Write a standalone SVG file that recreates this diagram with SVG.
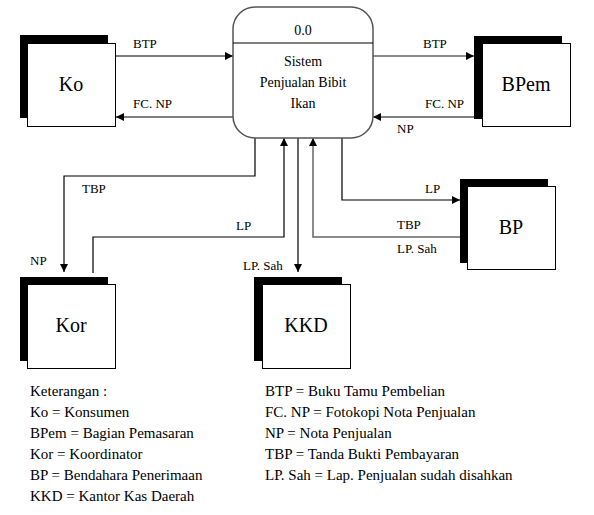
<svg xmlns="http://www.w3.org/2000/svg" width="594" height="515" viewBox="0 0 594 515" font-family="Liberation Serif, serif">
<defs>
  <marker id="ah" viewBox="0 0 10 10" refX="10" refY="5" markerWidth="8" markerHeight="8" markerUnits="userSpaceOnUse" orient="auto">
    <path d="M0,0 L10,5 L0,10 z" fill="#000"/>
  </marker>
</defs>
<rect width="594" height="515" fill="#fff"/>

<g id="connectors" fill="none" stroke="#000" stroke-width="1.2">
  <path d="M116,56 H233" marker-end="url(#ah)"/>
  <path d="M233,117 H116" marker-end="url(#ah)"/>
  <path d="M373,56 H474" stroke="#666" stroke-width="1.5" marker-end="url(#ah)"/>
  <path d="M474,117 H373" marker-end="url(#ah)"/>
  <path d="M255,138 V176 H64 V272" marker-end="url(#ah)"/>
  <path d="M93,273 V237 H284 V138" marker-end="url(#ah)"/>
  <path d="M298,138 V272" marker-end="url(#ah)"/>
  <path d="M460,237 H313 V138" stroke="#666" stroke-width="1.5" marker-end="url(#ah)"/>
  <path d="M342,138 V200 H460" marker-end="url(#ah)"/>
  <g font-family="Liberation Serif" font-size="13" fill="#000" stroke="none">
    <text x="133" y="48">BTP</text>
    <text x="133" y="108">FC. NP</text>
    <text x="423" y="48">BTP</text>
    <text x="425" y="108">FC. NP</text>
    <text x="397" y="133">NP</text>
    <text x="82" y="193">TBP</text>
    <text x="30" y="265">NP</text>
    <text x="236" y="230">LP</text>
    <text x="243" y="270">LP. Sah</text>
    <text x="425" y="193">LP</text>
    <text x="397" y="229">TBP</text>
    <text x="397" y="253">LP. Sah</text>
  </g>
</g>

<g id="process">
  <rect x="233" y="7" width="140" height="131" rx="22" ry="22" fill="#fff" stroke="#555" stroke-width="1.5"/>
  <line x1="233" y1="43" x2="373" y2="43" stroke="#000" stroke-width="1"/>
  <g font-family="Liberation Serif" font-size="14" text-anchor="middle" fill="#000">
    <text x="303" y="35">0.0</text>
    <text x="303" y="66">Sistem</text>
    <text x="303" y="87">Penjualan Bibit</text>
    <text x="303" y="108">Ikan</text>
  </g>
</g>

<g id="entities" font-family="Liberation Serif" font-size="20" text-anchor="middle">
  <g id="Ko">
    <rect x="20" y="35" width="88" height="83" fill="#000"/>
    <rect x="27.5" y="43.5" width="88" height="83" fill="#fff" stroke="#000"/>
    <text x="71" y="91" fill="#000">Ko</text>
  </g>
  <g id="BPem">
    <rect x="474" y="36" width="88" height="83" fill="#000"/>
    <rect x="482.5" y="43.5" width="88" height="83" fill="#fff" stroke="#000"/>
    <text x="526" y="91" fill="#000">BPem</text>
  </g>
  <g id="BP">
    <rect x="460" y="179" width="88" height="84" fill="#000"/>
    <rect x="467.5" y="186.5" width="88" height="83" fill="#fff" stroke="#000"/>
    <text x="511" y="234" fill="#000">BP</text>
  </g>
  <g id="Kor">
    <rect x="20" y="277" width="88" height="84" fill="#000"/>
    <rect x="27.5" y="284.5" width="88" height="84" fill="#fff" stroke="#000"/>
    <text x="71" y="332" fill="#000">Kor</text>
  </g>
  <g id="KKD">
    <rect x="254" y="277" width="88" height="84" fill="#000"/>
    <rect x="262.5" y="284.5" width="88" height="84" fill="#fff" stroke="#000"/>
    <text x="306" y="332" fill="#000">KKD</text>
  </g>
</g>

<g id="legend" font-family="Liberation Serif" font-size="15" fill="#000">
  <text x="30" y="396">Keterangan :</text>
  <text x="30" y="417">Ko = Konsumen</text>
  <text x="30" y="438">BPem = Bagian  Pemasaran</text>
  <text x="30" y="459">Kor = Koordinator</text>
  <text x="30" y="480">BP = Bendahara Penerimaan</text>
  <text x="30" y="501">KKD = Kantor Kas Daerah</text>
  <text x="265" y="396">BTP = Buku Tamu  Pembelian</text>
  <text x="265" y="417">FC. NP = Fotokopi Nota Penjualan</text>
  <text x="265" y="438">NP = Nota Penjualan</text>
  <text x="265" y="459">TBP = Tanda Bukti Pembayaran</text>
  <text x="265" y="480">LP. Sah = Lap. Penjualan  sudah disahkan</text>
</g>
</svg>
